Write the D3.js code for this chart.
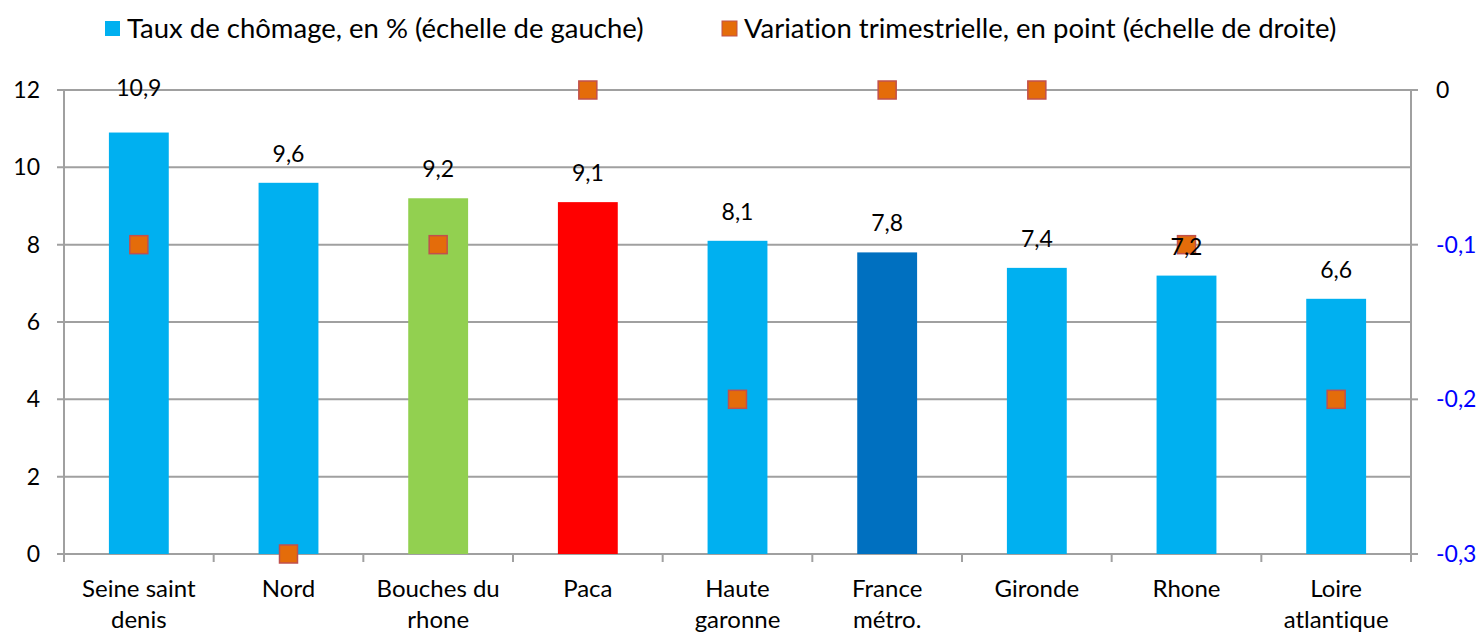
<!DOCTYPE html>
<html lang="fr">
<head>
  <meta charset="UTF-8">
  <title>Taux de chômage</title>
  <script src="https://cdn.jsdelivr.net/npm/d3@7"></script>
  <style>
    body { margin: 0; background: #fff; }
    svg text { font-family: Lato, "Open Sans", sans-serif; font-variant-ligatures: none; }
  </style>
</head>
<body>
<svg class="chart"></svg>
<script>
  var categories = ['Seine saint denis', 'Nord', 'Bouches du rhone', 'Paca', 'Haute garonne',
    'France métro.', 'Gironde', 'Rhone', 'Loire atlantique'];
  var labelLines = [['Seine saint', 'denis'], ['Nord'], ['Bouches du', 'rhone'], ['Paca'],
    ['Haute', 'garonne'], ['France', 'métro.'], ['Gironde'], ['Rhone'], ['Loire', 'atlantique']];
  var tauxChomage = [10.9, 9.6, 9.2, 9.1, 8.1, 7.8, 7.4, 7.2, 6.6];
  var variation = [-0.1, -0.3, -0.1, 0, -0.2, 0, 0, -0.1, -0.2];
  var barColors = ['#00b0f0', '#00b0f0', '#92d050', '#ff0000', '#00b0f0', '#0070c0', '#00b0f0', '#00b0f0', '#00b0f0'];
  var leftTicks = [0, 2, 4, 6, 8, 10, 12];
  var rightTicks = [0, -0.1, -0.2, -0.3];

  var svgWidth = 1479;
  var svgHeight = 632;
  var margin = {top: 90, right: 68, bottom: 78, left: 64};
  var chartWidth = svgWidth - margin.left - margin.right;
  var chartHeight = svgHeight - margin.top - margin.bottom;
  var fmt = function(v) { return String(v).replace('.', ','); };

  var svg = d3.select('.chart')
    .attr('width', svgWidth)
    .attr('height', svgHeight);

  var xScale = d3.scaleBand()
    .domain(categories)
    .range([0, chartWidth])
    .paddingInner(0.6)
    .paddingOuter(0.3);
  var bandStep = chartWidth / categories.length;

  var yLeft = d3.scaleLinear().domain([0, 12]).range([chartHeight, 0]);
  var yRight = d3.scaleLinear().domain([-0.3, 0]).range([chartHeight, 0]);

  var chart = svg.append('g')
    .attr('transform', 'translate(' + margin.left + ',' + margin.top + ')');

  // gridlines (left scale)
  chart.append('g').selectAll('line')
    .data(leftTicks)
    .enter()
    .append('line')
    .attr('x1', -7)
    .attr('x2', chartWidth)
    .attr('y1', function(d) { return yLeft(d); })
    .attr('y2', function(d) { return yLeft(d); })
    .attr('stroke', '#a0a0a0')
    .attr('stroke-width', 2);

  // right axis tick marks
  chart.append('g').selectAll('line')
    .data(rightTicks)
    .enter()
    .append('line')
    .attr('x1', chartWidth)
    .attr('x2', chartWidth + 7)
    .attr('y1', function(d) { return yRight(d); })
    .attr('y2', function(d) { return yRight(d); })
    .attr('stroke', '#a0a0a0')
    .attr('stroke-width', 2);

  // axis lines
  chart.append('line').attr('x1', 0).attr('x2', 0).attr('y1', 0).attr('y2', chartHeight)
    .attr('stroke', '#a0a0a0').attr('stroke-width', 2);
  chart.append('line').attr('x1', chartWidth).attr('x2', chartWidth).attr('y1', 0).attr('y2', chartHeight + 8)
    .attr('stroke', '#a0a0a0').attr('stroke-width', 2);

  // category ticks
  chart.append('g').selectAll('line')
    .data(d3.range(categories.length + 1))
    .enter()
    .append('line')
    .attr('x1', function(d) { return d * bandStep; })
    .attr('x2', function(d) { return d * bandStep; })
    .attr('y1', chartHeight)
    .attr('y2', chartHeight + 8)
    .attr('stroke', '#a0a0a0')
    .attr('stroke-width', 2);

  // left tick labels
  chart.append('g').selectAll('text')
    .data(leftTicks)
    .enter()
    .append('text')
    .attr('x', -24)
    .attr('y', function(d) { return yLeft(d); })
    .attr('dy', '0.35em')
    .attr('text-anchor', 'end')
    .attr('font-size', 23)
    .attr('fill', '#000')
    .text(function(d) { return d; });

  // right tick labels
  chart.append('g').selectAll('text')
    .data(rightTicks)
    .enter()
    .append('text')
    .attr('x', chartWidth + 25)
    .attr('y', function(d) { return yRight(d); })
    .attr('dy', '0.35em')
    .attr('font-size', 23)
    .attr('fill', function(d) { return d === 0 ? '#000' : '#0000ff'; })
    .text(function(d) { return fmt(d); });

  // bars
  chart.selectAll('rect.bar')
    .data(tauxChomage)
    .enter()
    .append('rect')
    .attr('class', 'bar')
    .attr('x', function(d, i) { return xScale(categories[i]); })
    .attr('y', function(d) { return yLeft(d); })
    .attr('width', xScale.bandwidth())
    .attr('height', function(d) { return chartHeight - yLeft(d); })
    .attr('fill', function(d, i) { return barColors[i]; });

  // markers (right scale)
  var mk = 18;
  chart.selectAll('rect.mk')
    .data(variation)
    .enter()
    .append('rect')
    .attr('class', 'mk')
    .attr('x', function(d, i) { return xScale(categories[i]) + xScale.bandwidth() / 2 - mk / 2; })
    .attr('y', function(d) { return yRight(d) - mk / 2; })
    .attr('width', mk)
    .attr('height', mk)
    .attr('fill', '#e46c0a')
    .attr('stroke', '#c0504d')
    .attr('stroke-width', 1.5);

  // value labels, snapped to the top line when too close to it
  chart.selectAll('text.val')
    .data(tauxChomage)
    .enter()
    .append('text')
    .attr('class', 'val')
    .attr('x', function(d, i) { return xScale(categories[i]) + xScale.bandwidth() / 2; })
    .attr('y', function(d) {
      var y = yLeft(d) - 29;
      return y < 20 ? -2 : y;
    })
    .attr('dy', '0.35em')
    .attr('text-anchor', 'middle')
    .attr('font-size', 23)
    .attr('fill', '#000')
    .text(function(d) { return fmt(d); });

  // category labels
  var catLabels = chart.append('g').selectAll('text')
    .data(labelLines)
    .enter()
    .append('text')
    .attr('x', function(d, i) { return xScale(categories[i]) + xScale.bandwidth() / 2; })
    .attr('y', chartHeight + 43)
    .attr('text-anchor', 'middle')
    .attr('font-size', 24)
    .attr('fill', '#000');
  catLabels.selectAll('tspan')
    .data(function(d) { return d; })
    .enter()
    .append('tspan')
    .attr('x', function() { return d3.select(this.parentNode).attr('x'); })
    .attr('dy', function(d, j) { return j === 0 ? 0 : 31; })
    .text(function(d) { return d; });

  // legend
  var legendItems = [
    {label: 'Taux de chômage, en % (échelle de gauche)', fill: '#00b0f0', stroke: 'none', x: 105},
    {label: 'Variation trimestrielle, en point (échelle de droite)', fill: '#e46c0a', stroke: '#c0504d', x: 722}
  ];
  var legend = svg.append('g').selectAll('g')
    .data(legendItems)
    .enter()
    .append('g')
    .attr('transform', function(d) { return 'translate(' + d.x + ',28)'; });
  legend.append('rect')
    .attr('x', 0).attr('y', -7).attr('width', 15).attr('height', 15)
    .attr('fill', function(d) { return d.fill; })
    .attr('stroke', function(d) { return d.stroke; });
  legend.append('text')
    .attr('x', 22)
    .attr('dy', '0.35em')
    .attr('font-size', 27.5)
    .attr('fill', '#000')
    .text(function(d) { return d.label; });
</script>
</body>
</html>
